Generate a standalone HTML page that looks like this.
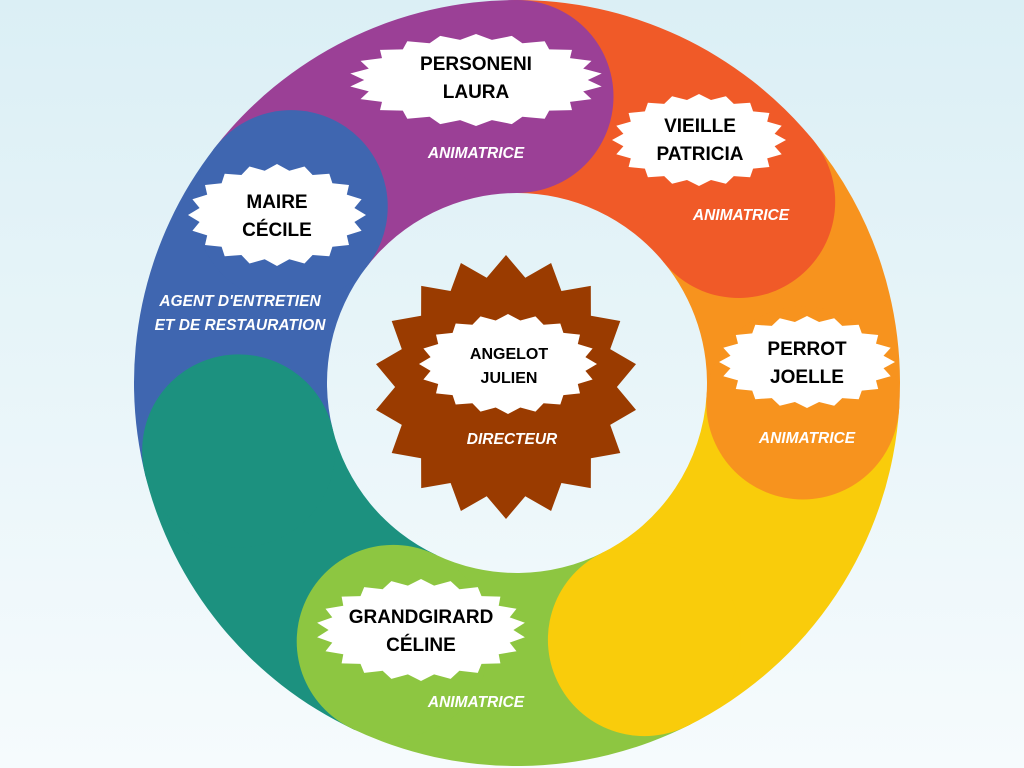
<!DOCTYPE html>
<html><head><meta charset="utf-8"><style>
html,body{margin:0;padding:0;width:1024px;height:768px;overflow:hidden;background:linear-gradient(#dbeff5,#f6fbfd);}
svg{display:block}
.n{font-family:"Liberation Sans",sans-serif;font-weight:bold;font-size:19px;fill:#000;text-anchor:middle}
.l{font-family:"Liberation Sans",sans-serif;font-weight:bold;font-style:italic;font-size:15.5px;fill:#fff;text-anchor:middle}
</style></head><body>
<svg id="s" width="1024" height="768" viewBox="0 0 1024 768">
<g id="bands"></g><g id="heads"></g><g id="stars"></g>
<g>
<text class="n" x="476" y="70">PERSONENI</text><text class="n" x="476" y="98">LAURA</text>
<text class="l" x="476" y="158">ANIMATRICE</text>
<text class="n" x="700" y="132">VIEILLE</text><text class="n" x="700" y="160">PATRICIA</text>
<text class="l" x="741" y="220">ANIMATRICE</text>
<text class="n" x="277" y="208">MAIRE</text><text class="n" x="277" y="236">CÉCILE</text>
<text class="l" x="240" y="306">AGENT D'ENTRETIEN</text>
<text class="l" x="240" y="330">ET DE RESTAURATION</text>
<text class="n" x="807" y="355">PERROT</text><text class="n" x="807" y="383">JOELLE</text>
<text class="l" x="807" y="443">ANIMATRICE</text>
<text class="n" x="421" y="623">GRANDGIRARD</text><text class="n" x="421" y="651">CÉLINE</text>
<text class="l" x="476" y="707">ANIMATRICE</text>
<text class="n" style="font-size:16px" x="509" y="359">ANGELOT</text><text class="n" style="font-size:16px" x="509" y="383">JULIEN</text>
<text class="l" x="512" y="444">DIRECTEUR</text>
</g>
</svg>
<script>
var NS="http://www.w3.org/2000/svg",cx=517,cy=383,Ro=383,Ri=190,Rm=286.5;
function pt(r,a){a=a*Math.PI/180;return [cx+r*Math.sin(a),cy-r*Math.cos(a)];}
var segs=[[308,360,"#9b4096"],[0,50.7,"#f05a28"],[50.7,94,"#f7931e"],[94,153.6,"#f9cc0b"],[153.6,205.6,"#8dc641"],[205.6,256.3,"#1c917f"],[256.3,308,"#3f66b0"]];
var B=document.getElementById("bands"),H=document.getElementById("heads"),S=document.getElementById("stars");
segs.forEach(function(s){
 var a1=s[0],a2=s[1],p1=pt(Ro,a1-0.5),p2=pt(Ro,a2),p3=pt(Ri,a2),p4=pt(Ri,a1-0.5);
 var lg=(a2-a1)>180?1:0;
 var p=document.createElementNS(NS,"path");
 p.setAttribute("d","M"+p1+"A"+Ro+","+Ro+" 0 "+lg+" 1 "+p2+"L"+p3+"A"+Ri+","+Ri+" 0 "+lg+" 0 "+p4+"Z");
 p.setAttribute("fill",s[2]);B.appendChild(p);
 var c=pt(Rm,a2),ci=document.createElementNS(NS,"circle");
 ci.setAttribute("cx",c[0]);ci.setAttribute("cy",c[1]);ci.setAttribute("r",96.5);ci.setAttribute("fill",s[2]);H.appendChild(ci);
});
function star(x,y,rx,ry,n,k,fill){
 var pts=[];for(var i=0;i<2*n;i++){var a=Math.PI*i/n,f=i%2?k:1;pts.push((x+rx*f*Math.sin(a)).toFixed(1)+","+(y-ry*f*Math.cos(a)).toFixed(1));}
 var p=document.createElementNS(NS,"polygon");p.setAttribute("points",pts.join(" "));p.setAttribute("fill",fill);S.appendChild(p);
}
star(506,387,132,132,18,0.84,"#9a3b00");
star(476,80,127,46,22,0.88,"#fff");
star(699,140,87,46,20,0.88,"#fff");
star(277,215,89,51,20,0.88,"#fff");
star(807,362,88,46,20,0.88,"#fff");
star(421,630,105,51,22,0.88,"#fff");
star(508,364,89,50,20,0.88,"#fff");
</script>
</body></html>
